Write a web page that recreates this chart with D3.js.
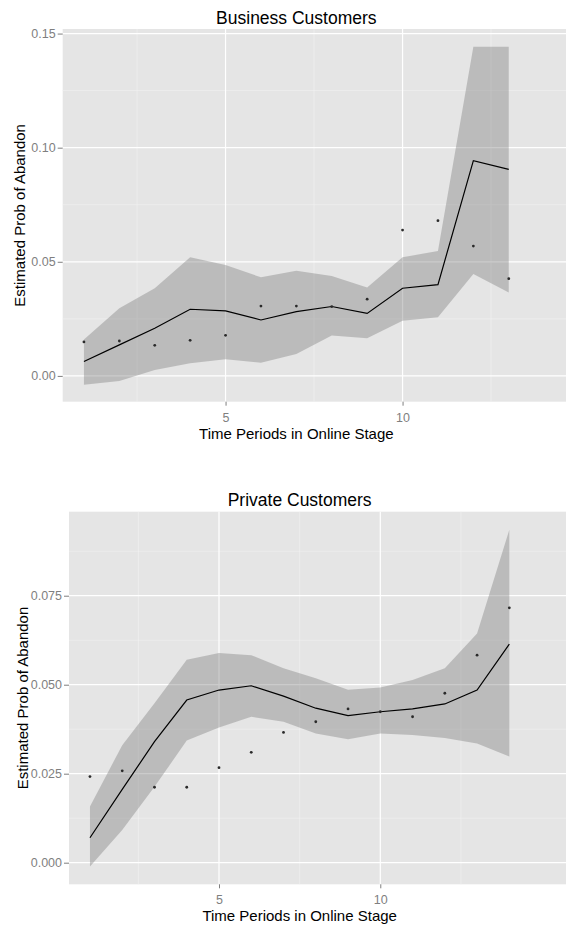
<!DOCTYPE html>
<html><head><meta charset="utf-8">
<script src="https://cdn.jsdelivr.net/npm/d3@7"></script>
<style>body{margin:0;background:#fff}svg{display:block}text{font-family:"Liberation Sans",Arial,Helvetica,sans-serif}</style>
</head><body>
<svg id="c" width="566" height="929"></svg>
<script>
// ---- Data: Business Customers ----
const bizPeriods = [1,2,3,4,5,6,7,8,9,10,11,12,13];
const bizFit   = [0.0063,0.0136,0.0209,0.0292,0.0285,0.0245,0.0282,0.0304,0.0274,0.0384,0.0400,0.0943,0.0905];
const bizUpper = [0.0160,0.0296,0.0384,0.0520,0.0486,0.0432,0.0461,0.0438,0.0387,0.0520,0.0547,0.1442,0.1442];
const bizLower = [-0.0039,-0.0022,0.0026,0.0055,0.0073,0.0058,0.0096,0.0177,0.0165,0.0242,0.0257,0.0447,0.0365];
const bizObs   = [0.0149,0.0153,0.0134,0.0156,0.0178,0.0306,0.0306,0.0304,0.0336,0.0639,0.0680,0.0569,0.0426];
const bizYTicks = [0.00,0.05,0.10,0.15];
// ---- Data: Private Customers ----
const privPeriods = [1,2,3,4,5,6,7,8,9,10,11,12,13,14];
const privFit   = [0.0070,0.0206,0.0340,0.0457,0.0485,0.0497,0.0468,0.0434,0.0413,0.0424,0.0432,0.0446,0.0485,0.0614];
const privUpper = [0.0158,0.0330,0.0448,0.0570,0.0589,0.0583,0.0546,0.0518,0.0486,0.0492,0.0513,0.0546,0.0644,0.0935];
const privLower = [-0.0011,0.0092,0.0213,0.0343,0.0380,0.0410,0.0396,0.0363,0.0347,0.0363,0.0359,0.0350,0.0335,0.0298];
const privObs   = [0.0242,0.0258,0.0212,0.0212,0.0267,0.0310,0.0366,0.0396,0.0432,0.0424,0.0410,0.0476,0.0583,0.0716];
const privYTicks = [0.000,0.025,0.050,0.075];
const xTicks = [5,10];
const xMinor = [2.5,7.5,12.5];

const svg = d3.select("#c");

function panel(cfg){
  const g = svg.append("g");
  const x = d3.scaleLinear().domain(cfg.xDom).range([cfg.left, cfg.right]);
  const y = d3.scaleLinear().domain(cfg.yDom).range([cfg.bottom, cfg.top]);
  g.append("rect").attr("x",cfg.left).attr("y",cfg.top)
    .attr("width",566-cfg.left).attr("height",cfg.bottom-cfg.top).attr("fill","#e5e5e5");
  const step = cfg.yTicks[1]-cfg.yTicks[0];
  const yMinor = [];
  for(let v=cfg.yTicks[0]-step/2; v<cfg.yDom[1]; v+=step){ if(v>cfg.yDom[0]) yMinor.push(v); }
  g.selectAll(".ym").data(yMinor).join("line")
    .attr("x1",cfg.left).attr("x2",566).attr("y1",d=>y(d)).attr("y2",d=>y(d))
    .attr("stroke","#f2f2f2").attr("stroke-width",0.6);
  g.selectAll(".xm").data(xMinor).join("line")
    .attr("y1",cfg.top).attr("y2",cfg.bottom).attr("x1",d=>x(d)).attr("x2",d=>x(d))
    .attr("stroke","#f2f2f2").attr("stroke-width",0.6);
  g.selectAll(".yM").data(cfg.yTicks).join("line")
    .attr("x1",cfg.left).attr("x2",566).attr("y1",d=>y(d)).attr("y2",d=>y(d))
    .attr("stroke","#fff").attr("stroke-width",1.2);
  g.selectAll(".xM").data(xTicks).join("line")
    .attr("y1",cfg.top).attr("y2",cfg.bottom).attr("x1",d=>x(d)).attr("x2",d=>x(d))
    .attr("stroke","#fff").attr("stroke-width",1.2);
  const rows = cfg.periods.map((t,i)=>({t, fit:cfg.fit[i], lo:cfg.lower[i], hi:cfg.upper[i], obs:cfg.obs[i]}));
  g.append("path").datum(rows)
    .attr("d", d3.area().x(d=>x(d.t)).y0(d=>y(d.lo)).y1(d=>y(d.hi)))
    .attr("fill","#7d7d7d").attr("fill-opacity",0.4);
  g.append("path").datum(rows)
    .attr("d", d3.line().x(d=>x(d.t)).y(d=>y(d.fit)))
    .attr("fill","none").attr("stroke","#000").attr("stroke-width",1.2);
  g.selectAll(".pt").data(rows).join("circle")
    .attr("cx",d=>x(d.t)).attr("cy",d=>y(d.obs)).attr("r",1.4).attr("fill","#2a2a2a");
  const ya = g.append("g").attr("transform",`translate(${cfg.left},0)`)
    .call(d3.axisLeft(y).tickValues(cfg.yTicks).tickFormat(d3.format(cfg.fmt)).tickSize(5).tickPadding(2));
  const xa = g.append("g").attr("transform",`translate(0,${cfg.bottom})`)
    .call(d3.axisBottom(x).tickValues(xTicks).tickFormat(d3.format("d")).tickSize(4).tickPadding(7));
  [ya,xa].forEach(a=>{
    a.select(".domain").remove();
    a.selectAll(".tick line").attr("stroke","#7f7f7f");
    a.selectAll(".tick text").attr("fill","#7f7f7f").style("font-size","12.5px");
  });
  const cx = (cfg.left+cfg.right)/2;
  g.append("text").attr("x",cx).attr("y",cfg.titleY).attr("text-anchor","middle")
    .style("font-size","17.5px").attr("fill","#000").text(cfg.title);
  g.append("text").attr("x",cx).attr("y",cfg.bottom+37).attr("text-anchor","middle")
    .style("font-size","15px").attr("fill","#000").text("Time Periods in Online Stage");
  g.append("text").attr("transform",`translate(${cfg.yTitleX},${(cfg.top+cfg.bottom)/2}) rotate(-90)`)
    .attr("text-anchor","middle").style("font-size","15px").attr("fill","#000")
    .text("Estimated Prob of Abandon");
}

panel({title:"Business Customers", periods:bizPeriods, fit:bizFit, upper:bizUpper, lower:bizLower, obs:bizObs,
  yTicks:bizYTicks, fmt:".2f", xDom:[0.4,13.6], yDom:[-0.0113,0.152],
  left:62.7, right:530, top:29, bottom:401.7, titleY:24, yTitleX:25});
panel({title:"Private Customers", periods:privPeriods, fit:privFit, upper:privUpper, lower:privLower, obs:privObs,
  yTicks:privYTicks, fmt:".3f", xDom:[0.35,14.65], yDom:[-0.00607,0.0986],
  left:69, right:530.3, top:511.7, bottom:884.3, titleY:506, yTitleX:28});
</script>
</body></html>
